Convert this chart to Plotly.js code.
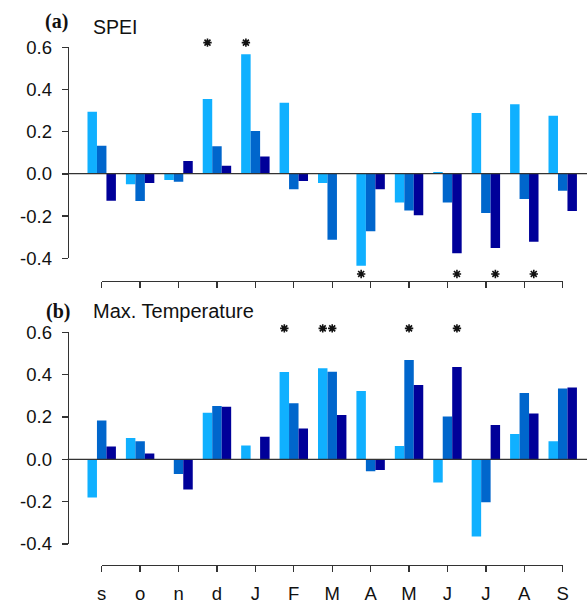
<!DOCTYPE html>
<html>
<head>
<meta charset="utf-8">
<script src="https://cdn.plot.ly/plotly-3.0.1.min.js"></script>
<style>html,body{margin:0;padding:0;background:#fff;}#chart{width:587px;height:604px;}</style>
</head>
<body>
<div id="chart"></div>
<script>
// ---- data ----
const categories = ['s','o','n','d','J','F','M','A','M','J','J','A','S'];
const seriesColors = ['#10B0FF','#0066CC','#000099'];

const spei_light  = [0.294,-0.050,-0.030,0.354,0.566,0.336,-0.044,-0.436,-0.137,0.008,0.288,0.329,0.275];
const spei_medium = [0.133,-0.129,-0.038,0.130,0.202,-0.074,-0.313,-0.273,-0.174,-0.136,-0.186,-0.120,-0.081];
const spei_dark   = [-0.128,-0.044,0.060,0.038,0.082,-0.035,0.000,-0.074,-0.197,-0.377,-0.352,-0.322,-0.177];

const tmax_light  = [-0.181,0.101,0.000,0.220,0.065,0.413,0.430,0.323,0.063,-0.110,-0.365,0.120,0.085];
const tmax_medium = [0.184,0.085,-0.069,0.252,0.000,0.265,0.414,-0.057,0.469,0.202,-0.203,0.313,0.335];
const tmax_dark   = [0.060,0.027,-0.143,0.249,0.107,0.146,0.209,-0.050,0.351,0.436,0.162,0.217,0.340];

// significance markers: month index, series index (0 light,1 medium,2 dark), side
const spei_sig_month  = [3,4,7,9,10,11];
const spei_sig_series = [0,0,0,2,2,2];
const spei_sig_side   = ['top','top','bottom','bottom','bottom','bottom'];

const tmax_sig_month  = [5,6,6,8,9];
const tmax_sig_series = [0,0,1,1,2];
const tmax_sig_side   = ['top','top','top','top','top'];

const yTicks = [-0.4,-0.2,0.0,0.2,0.4,0.6];

// ---- layout geometry ----
const W = 587, H = 604;
const px = v => v / W;
const py = v => 1 - v / H;
const BARGAP = 0.26;
const xIdx = categories.map((c,i)=>i);
const barW = (1 - BARGAP) / 3;
const xr = [-0.885, 12.632];

function bars(vals, k, xa, ya){
  return {type:'bar', x:xIdx, y:vals, xaxis:xa, yaxis:ya,
    marker:{color:seriesColors[k], line:{width:0}}, showlegend:false, hoverinfo:'skip'};
}
function stars(months, series, side, xa, ya, topY, botY){
  return {type:'scatter', mode:'markers', xaxis:xa, yaxis:ya, showlegend:false, hoverinfo:'skip',
    x: months.map((m,j)=> m + (series[j]-1)*barW),
    y: side.map(s => s==='top' ? topY : botY),
    marker:{symbol:'asterisk-open', size:7, color:'#111', line:{color:'#111', width:1.6}}};
}

const data = [
  bars(spei_light,0,'x','y'), bars(spei_medium,1,'x','y'), bars(spei_dark,2,'x','y'),
  bars(tmax_light,0,'x2','y2'), bars(tmax_medium,1,'x2','y2'), bars(tmax_dark,2,'x2','y2'),
  stars(spei_sig_month, spei_sig_series, spei_sig_side, 'x','y', 0.621, -0.475),
  stars(tmax_sig_month, tmax_sig_series, tmax_sig_side, 'x2','y2', 0.619, -0.475),
  {type:'scatter', x:[null], y:[null], xaxis:'x3', yaxis:'y3', showlegend:false, hoverinfo:'skip'},
  {type:'scatter', x:[null], y:[null], xaxis:'x4', yaxis:'y4', showlegend:false, hoverinfo:'skip'}
];

const tickFont = {family:'"Liberation Sans", Arial, sans-serif', size:18.5, color:'#111'};
const hidden = {showgrid:false, zeroline:false, showline:false, showticklabels:false, ticks:''};

const layout = {
  width:W, height:H, margin:{l:0,r:0,t:0,b:0},
  paper_bgcolor:'#fff', plot_bgcolor:'rgba(0,0,0,0)',
  barmode:'group', bargap:BARGAP, bargroupgap:0, showlegend:false,
  xaxis: Object.assign({domain:[px(67.7),1], range:xr, anchor:'y', fixedrange:true}, hidden),
  yaxis: Object.assign({domain:[py(290),py(20)], range:[-(290-173.7)/211,(173.7-20)/211], anchor:'x'}, hidden),
  xaxis2: Object.assign({domain:[px(67.7),1], range:xr, anchor:'y2'}, hidden),
  yaxis2: Object.assign({domain:[py(580),py(320)], range:[-(580-459.3)/211.5,(459.3-320)/211.5], anchor:'x2'}, hidden),
  // visible axis frames (R style, spanning only the tick range)
  xaxis3: {domain:[px(101.7),px(562.7)], range:[0,12], anchor:'free', position:py(280.7),
    showgrid:false, zeroline:false, showline:true, linecolor:'#333', linewidth:1.3,
    ticks:'outside', ticklen:6, tickwidth:1.3, tickcolor:'#333',
    tickvals:xIdx, ticktext:categories, showticklabels:false},
  yaxis3: {domain:[py(258.3),py(47.3)], range:[-0.4,0.6], anchor:'free', position:px(67.7),
    showgrid:false, zeroline:false, showline:true, linecolor:'#333', linewidth:1.3,
    ticks:'outside', ticklen:6, tickwidth:1.3, tickcolor:'#333',
    tickvals:yTicks, ticktext:yTicks.map(v=>v.toFixed(1)), tickfont:tickFont, ticklabelstandoff:6},
  xaxis4: {domain:[px(101.7),px(562.7)], range:[0,12], anchor:'free', position:py(565),
    showgrid:false, zeroline:false, showline:true, linecolor:'#333', linewidth:1.3,
    ticks:'outside', ticklen:6, tickwidth:1.3, tickcolor:'#333',
    tickvals:xIdx, ticktext:categories, tickfont:tickFont, ticklabelstandoff:5},
  yaxis4: {domain:[py(544),py(332.3)], range:[-0.4,0.6], anchor:'free', position:px(67.7),
    showgrid:false, zeroline:false, showline:true, linecolor:'#333', linewidth:1.3,
    ticks:'outside', ticklen:6, tickwidth:1.3, tickcolor:'#333',
    tickvals:yTicks, ticktext:yTicks.map(v=>v.toFixed(1)), tickfont:tickFont, ticklabelstandoff:6},
  shapes: [
    {type:'line', xref:'x domain', yref:'y', x0:0, x1:1, y0:0, y1:0, line:{color:'#333', width:1.3}, layer:'above'},
    {type:'line', xref:'x2 domain', yref:'y2', x0:0, x1:1, y0:0, y1:0, line:{color:'#333', width:1.3}, layer:'above'}
  ],
  annotations: [
    {text:'<b>(a)</b>', xref:'paper', yref:'paper', x:px(43), y:py(21), xanchor:'left', yanchor:'middle', showarrow:false,
      font:{family:'"Liberation Serif", "Times New Roman", serif', size:20, color:'#111'}},
    {text:'SPEI', xref:'paper', yref:'paper', x:px(91), y:py(27), xanchor:'left', yanchor:'middle', showarrow:false,
      font:{family:'"Liberation Sans", Arial, sans-serif', size:19.5, color:'#111'}},
    {text:'<b>(b)</b>', xref:'paper', yref:'paper', x:px(44), y:py(311), xanchor:'left', yanchor:'middle', showarrow:false,
      font:{family:'"Liberation Serif", "Times New Roman", serif', size:20, color:'#111'}},
    {text:'Max. Temperature', xref:'paper', yref:'paper', x:px(91), y:py(311), xanchor:'left', yanchor:'middle', showarrow:false,
      font:{family:'"Liberation Sans", Arial, sans-serif', size:20, color:'#111'}}
  ]
};

Plotly.newPlot('chart', data, layout, {staticPlot:true, displayModeBar:false});
</script>
</body>
</html>
